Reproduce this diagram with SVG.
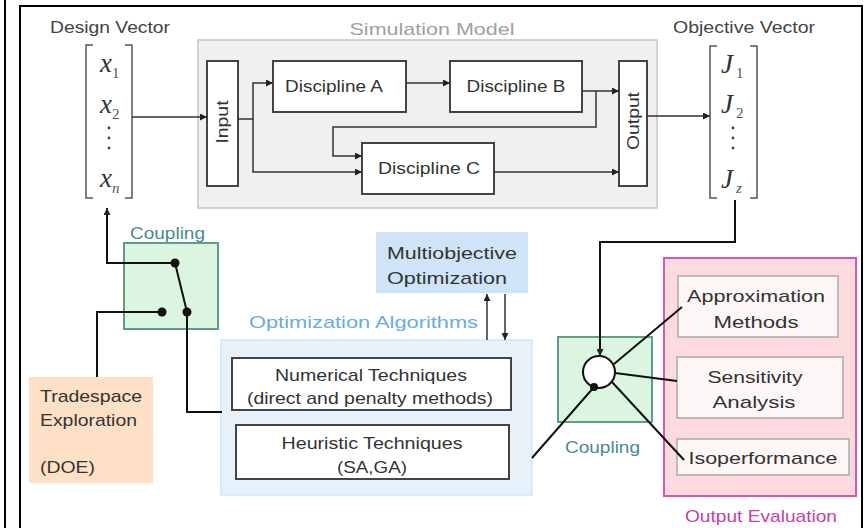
<svg xmlns="http://www.w3.org/2000/svg" width="865" height="528" viewBox="0 0 865 528">
<defs>
<marker id="ah" viewBox="0 0 10 10" refX="10" refY="5" markerWidth="7" markerHeight="7" markerUnits="userSpaceOnUse" orient="auto"><path d="M0,0 L10,5 L0,10 z" fill="#222"/></marker>
<style>
text{font-family:"Liberation Sans",Arial,sans-serif;fill:#333;font-size:17px}
.m{font-family:"Liberation Serif","Times New Roman",serif;font-style:italic;font-size:27px;fill:#333}
.ms{font-family:"Liberation Serif","Times New Roman",serif;font-size:15px;fill:#555}
.box{fill:#fff;stroke:#444;stroke-width:2}
.thin{fill:none;stroke:#333;stroke-width:1.5}
.bold{fill:none;stroke:#111;stroke-width:2}
.brk{fill:none;stroke:#555;stroke-width:1.5}
.cpl{fill:#dcf5e0;stroke:#5f9f87;stroke-width:2}
.cplt{fill:#4a8a90}
.ebox{fill:#fdf6f6;stroke:#aaa;stroke-width:1.5}
</style>
</defs>
<line x1="5" y1="0" x2="5" y2="528" stroke="#000" stroke-width="2"/>
<rect x="20" y="6" width="842" height="540" fill="#fff" stroke="#000" stroke-width="2"/>

<g id="simulation-model">
<rect x="198" y="40" width="459" height="168" fill="#f0f0f0" stroke="#c4c4c4" stroke-width="1.5"/>
<text x="432" y="35" text-anchor="middle" style="fill:#a0a0a0" textLength="165" lengthAdjust="spacingAndGlyphs">Simulation Model</text>
</g>

<g id="design-vector">
<text x="110" y="33" text-anchor="middle" style="fill:#444" textLength="120" lengthAdjust="spacingAndGlyphs">Design Vector</text>
<path class="brk" d="M93,45 H86 V198 H93 M125,45 H132 V198 H125"/>
<text class="m" x="100" y="72">x</text><text class="ms" x="112" y="78">1</text>
<text class="m" x="100" y="113">x</text><text class="ms" x="112" y="119">2</text>
<circle cx="109" cy="128" r="1.4" fill="#444"/><circle cx="109" cy="138" r="1.4" fill="#444"/><circle cx="109" cy="148" r="1.4" fill="#444"/>
<text class="m" x="100" y="187">x</text><text class="ms" x="112" y="193" style="font-style:italic">n</text>
</g>

<g id="objective-vector">
<text x="744" y="33" text-anchor="middle" style="fill:#444" textLength="142" lengthAdjust="spacingAndGlyphs">Objective Vector</text>
<path class="brk" d="M717,46 H710 V198 H717 M750,46 H757 V198 H750"/>
<text class="m" x="721" y="73">J</text><text class="ms" x="736" y="78">1</text>
<text class="m" x="721" y="113">J</text><text class="ms" x="736" y="118">2</text>
<circle cx="733" cy="128" r="1.4" fill="#444"/><circle cx="733" cy="138" r="1.4" fill="#444"/><circle cx="733" cy="148" r="1.4" fill="#444"/>
<text class="m" x="721" y="188">J</text><text class="ms" x="736" y="193" style="font-style:italic">z</text>
</g>

<g id="input">
<rect class="box" x="207" y="61" width="31" height="125"/>
<text transform="translate(228,122) rotate(-90)" text-anchor="middle" textLength="43" lengthAdjust="spacingAndGlyphs">Input</text>
</g>
<g id="discipline-a">
<rect class="box" x="273" y="61" width="133" height="51"/>
<text x="334" y="92" text-anchor="middle" textLength="98" lengthAdjust="spacingAndGlyphs">Discipline A</text>
</g>
<g id="discipline-b">
<rect class="box" x="450" y="61" width="132" height="51"/>
<text x="516" y="92" text-anchor="middle" textLength="99" lengthAdjust="spacingAndGlyphs">Discipline B</text>
</g>
<g id="discipline-c">
<rect class="box" x="362" y="143" width="132" height="51"/>
<text x="429" y="174" text-anchor="middle" textLength="102" lengthAdjust="spacingAndGlyphs">Discipline C</text>
</g>
<g id="output">
<rect class="box" x="619" y="61" width="28" height="125"/>
<text transform="translate(639,121) rotate(-90)" text-anchor="middle" textLength="58" lengthAdjust="spacingAndGlyphs">Output</text>
</g>

<g id="coupling-left">
<rect class="cpl" x="124" y="243" width="94" height="86"/>
<text class="cplt" x="130" y="239" textLength="75" lengthAdjust="spacingAndGlyphs">Coupling</text>
</g>

<g id="tradespace">
<rect x="29" y="377" width="124" height="106" fill="#fde0c6"/>
<text x="40" y="402" textLength="102" lengthAdjust="spacingAndGlyphs">Tradespace</text>
<text x="40" y="426" textLength="97" lengthAdjust="spacingAndGlyphs">Exploration</text>
<text x="40" y="473" textLength="55" lengthAdjust="spacingAndGlyphs">(DOE)</text>
</g>

<g id="multiobjective">
<rect x="376" y="232" width="152" height="61" fill="#cfe5f7"/>
<text x="452" y="259" text-anchor="middle" textLength="130" lengthAdjust="spacingAndGlyphs">Multiobjective</text>
<text x="447" y="284" text-anchor="middle" textLength="120" lengthAdjust="spacingAndGlyphs">Optimization</text>
</g>

<g id="optimization-algorithms">
<rect x="221" y="340" width="311" height="155" fill="#e6f1fa" stroke="#d4e6f5" stroke-width="1.5"/>
<text x="249" y="328" style="fill:#6aaae6" textLength="229" lengthAdjust="spacingAndGlyphs">Optimization Algorithms</text>
</g>
<g id="numerical">
<rect class="box" x="232" y="358" width="279" height="52"/>
<text x="371" y="381" text-anchor="middle" textLength="192" lengthAdjust="spacingAndGlyphs">Numerical Techniques</text>
<text x="370" y="404" text-anchor="middle" textLength="246" lengthAdjust="spacingAndGlyphs">(direct and penalty methods)</text>
</g>
<g id="heuristic">
<rect class="box" x="236" y="425" width="273" height="54"/>
<text x="372" y="449" text-anchor="middle" textLength="181" lengthAdjust="spacingAndGlyphs">Heuristic Techniques</text>
<text x="372" y="473" text-anchor="middle" textLength="70" lengthAdjust="spacingAndGlyphs">(SA,GA)</text>
</g>

<g id="coupling-right">
<rect class="cpl" x="558" y="337" width="94" height="85"/>
<text class="cplt" x="565" y="453" textLength="75" lengthAdjust="spacingAndGlyphs">Coupling</text>
</g>

<g id="output-evaluation">
<rect x="664" y="258" width="192" height="238" fill="#fcdade" stroke="#d45ab0" stroke-width="2"/>
<text x="685" y="522" style="fill:#c63fa5" textLength="152" lengthAdjust="spacingAndGlyphs">Output Evaluation</text>
</g>
<g id="approximation">
<rect class="ebox" x="678" y="276" width="160" height="61"/>
<text x="756" y="302" text-anchor="middle" textLength="138" lengthAdjust="spacingAndGlyphs">Approximation</text>
<text x="756" y="328" text-anchor="middle" textLength="85" lengthAdjust="spacingAndGlyphs">Methods</text>
</g>
<g id="sensitivity">
<rect class="ebox" x="677" y="357" width="166" height="61"/>
<text x="755" y="383" text-anchor="middle" textLength="95" lengthAdjust="spacingAndGlyphs">Sensitivity</text>
<text x="754" y="408" text-anchor="middle" textLength="83" lengthAdjust="spacingAndGlyphs">Analysis</text>
</g>
<g id="isoperformance">
<rect class="ebox" x="677" y="439" width="172" height="36"/>
<text x="763" y="464" text-anchor="middle" textLength="149" lengthAdjust="spacingAndGlyphs">Isoperformance</text>
</g>

<g id="connectors">
<path class="thin" d="M132,117 H207" marker-end="url(#ah)"/>
<path class="thin" d="M238,119 H253 V83 H273" marker-end="url(#ah)"/>
<path class="thin" d="M253,119 V172 H362" marker-end="url(#ah)"/>
<path class="thin" d="M406,83 H450" marker-end="url(#ah)"/>
<path class="thin" d="M582,91 H619" marker-end="url(#ah)"/>
<path class="thin" d="M596,91 V127 H333 V156 H362" marker-end="url(#ah)"/>
<path class="thin" d="M494,172 H619" marker-end="url(#ah)"/>
<path class="thin" d="M647,116 H710" marker-end="url(#ah)"/>
<path class="bold" d="M735,200 V242 H600 V356" marker-end="url(#ah)"/>
<circle cx="599" cy="372" r="16" fill="#fff" stroke="#111" stroke-width="2"/>
<circle cx="594" cy="387" r="4" fill="#111"/>
<path class="bold" d="M532,458 L594,387"/>
<path class="bold" d="M614,364 L682,307"/>
<path class="bold" d="M615,373 L677,381"/>
<path class="bold" d="M612,382 L684,460"/>
<path class="thin" d="M487,340 V294" marker-end="url(#ah)"/>
<path class="thin" d="M505,294 V340" marker-end="url(#ah)"/>
<path class="bold" d="M175,263 H107 V208" marker-end="url(#ah)"/>
<path class="bold" d="M175,263 L187,312"/>
<circle cx="175" cy="263" r="4.5" fill="#111"/>
<circle cx="187" cy="312" r="4.5" fill="#111"/>
<circle cx="162" cy="312" r="4.5" fill="#111"/>
<path class="bold" d="M162,312 H97 V377"/>
<path class="bold" d="M187,312 V412 H222"/>
</g>
</svg>
